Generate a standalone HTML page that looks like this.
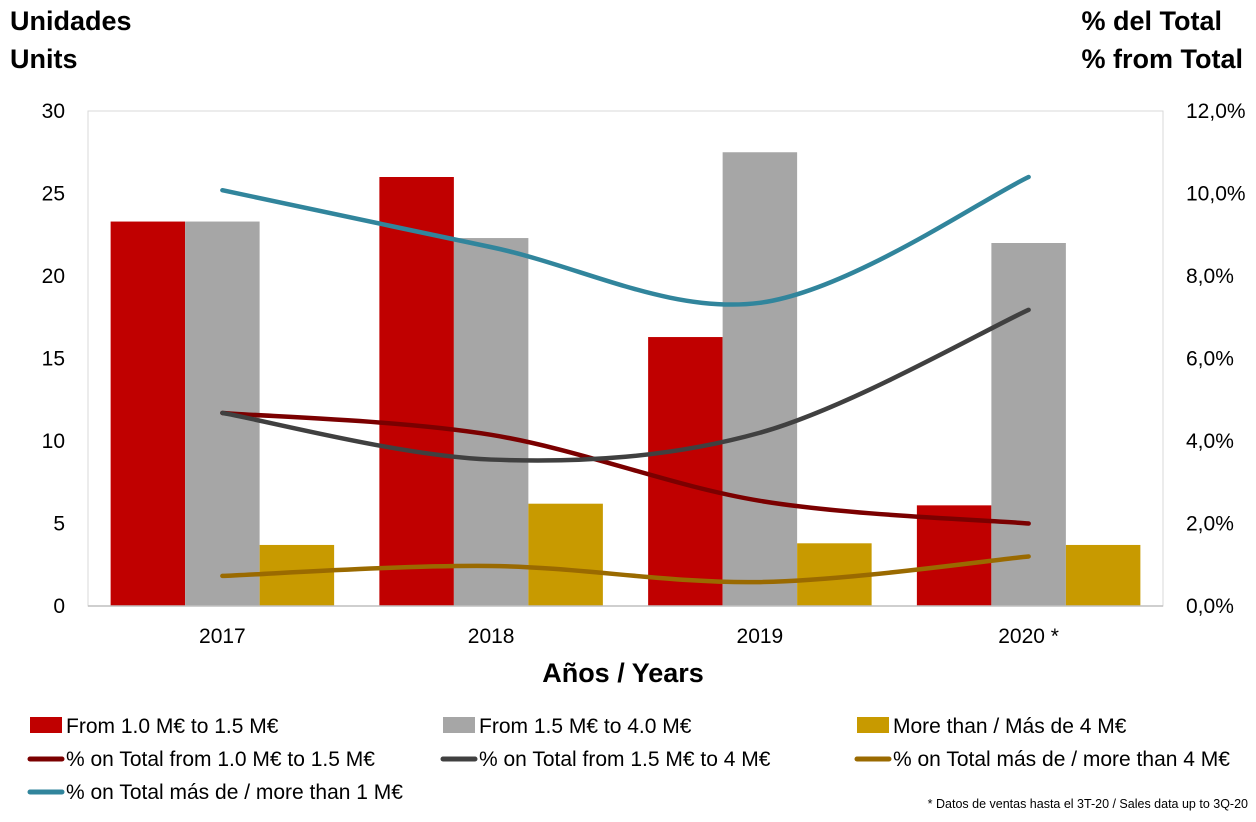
<!DOCTYPE html>
<html><head><meta charset="utf-8"><style>
body{margin:0;background:#fff;}
svg{display:block;font-family:"Liberation Sans Narrow","Liberation Sans",sans-serif;}
</style></head><body>
<svg id="chart" width="1256" height="822" viewBox="0 0 1256 822">
<rect x="0" y="0" width="1256" height="822" fill="#fff"/>
<g id="grid"></g>
<g id="bars"></g>
<g id="lines"></g>
<g id="axes"></g>
<text x="10" y="30" font-size="27" font-weight="bold">Unidades</text>
<text x="10" y="68" font-size="27" font-weight="bold">Units</text>
<text x="1222" y="30" font-size="27" font-weight="bold" text-anchor="end">% del Total</text>
<text x="1243" y="68" font-size="27" font-weight="bold" text-anchor="end">% from Total</text>
<text x="623" y="682" font-size="27" font-weight="bold" text-anchor="middle">Años / Years</text>
<g id="legend">
<rect x="30" y="717" width="32" height="16" fill="#c00000"/>
<text x="66" y="733" font-size="21">From 1.0 M€ to 1.5 M€</text>
<rect x="443" y="717" width="32" height="16" fill="#a6a6a6"/>
<text x="479" y="733" font-size="21">From 1.5 M€ to 4.0 M€</text>
<rect x="857" y="717" width="32" height="16" fill="#c89a00"/>
<text x="893" y="733" font-size="21">More than / Más de 4 M€</text>
<line x1="30" y1="759" x2="62" y2="759" stroke="#7b0000" stroke-width="5" stroke-linecap="round"/>
<text x="66" y="766" font-size="21">% on Total from 1.0 M€ to 1.5 M€</text>
<line x1="443" y1="759" x2="475" y2="759" stroke="#404040" stroke-width="5" stroke-linecap="round"/>
<text x="479" y="766" font-size="21">% on Total from 1.5 M€ to 4 M€</text>
<line x1="857" y1="759" x2="889" y2="759" stroke="#9a6a00" stroke-width="5" stroke-linecap="round"/>
<text x="893" y="766" font-size="21">% on Total más de / more than 4 M€</text>
<line x1="30" y1="792" x2="62" y2="792" stroke="#31859c" stroke-width="5" stroke-linecap="round"/>
<text x="66" y="799" font-size="21">% on Total más de / more than 1 M€</text>
</g>
<text x="1248" y="808" font-size="12.5" text-anchor="end">* Datos de ventas hasta el 3T-20 / Sales data up to 3Q-20</text>
</svg>
<script>
const categories = ["2017","2018","2019","2020 *"];
const unitsRed = [23.3, 26.0, 16.3, 6.1];
const unitsGray = [23.3, 22.3, 27.5, 22.0];
const unitsGold = [3.7, 6.2, 3.8, 3.7];
const pctRed = [4.68, 4.15, 2.55, 2.0];
const pctGray = [4.68, 3.55, 4.2, 7.18];
const pctGold = [0.73, 0.97, 0.58, 1.2];
const pctTeal = [10.08, 8.7, 7.35, 10.4];
const leftTicks = [0,5,10,15,20,25,30];
const rightTicks = ["0,0%","2,0%","4,0%","6,0%","8,0%","10,0%","12,0%"];

const NS="http://www.w3.org/2000/svg";
const L=88,R=1163,T=111,B=606;
const yL=v=>B-(v/30)*(B-T);
const yR=v=>B-(v/12)*(B-T);
const cw=(R-L)/categories.length;
const xC=i=>L+cw*(i+0.5);
function mk(tag,attrs,parent){const e=document.createElementNS(NS,tag);for(const k in attrs)e.setAttribute(k,attrs[k]);document.getElementById(parent).appendChild(e);return e;}

// plot frame
const fr=mk('rect',{x:L,y:T,width:R-L,height:B-T,fill:'none',stroke:'#d9d9d9','stroke-width':1},'grid');


const ax=mk('line',{x1:L,y1:B,x2:R,y2:B,stroke:'#bfbfbf','stroke-width':1.5},'axes');



leftTicks.forEach((t,i)=>{
  const a=mk('text',{x:65,y:yL(t)+7,'font-size':21,'text-anchor':'end'},'axes');a.textContent=t;
  
  
  const b=mk('text',{x:1186,y:yR(i*2)+7,'font-size':21},'axes');b.textContent=rightTicks[i];
  
  
});
categories.forEach((c,i)=>{
  const t=mk('text',{x:xC(i),y:643,'font-size':21,'text-anchor':'middle'},'axes');t.textContent=c;
  
  
});

const bw=74.5;
[[unitsRed,'#c00000','bar-red'],[unitsGray,'#a6a6a6','bar-gray'],[unitsGold,'#c89a00','bar-gold']].forEach(([arr,col,nm],s)=>{
  arr.forEach((v,i)=>{
    const x=xC(i)-1.5*bw+s*bw;
    const r=mk('rect',{x:x,y:yL(v),width:bw,height:B-yL(v),fill:col},'bars');
    
    
  });
});

function smooth(pts){
  let d=`M${pts[0][0]},${pts[0][1]}`;
  for(let i=0;i<pts.length-1;i++){
    const p0=pts[i-1]||pts[i],p1=pts[i],p2=pts[i+1],p3=pts[i+2]||p2;
    const c1=[p1[0]+(p2[0]-p0[0])/6,p1[1]+(p2[1]-p0[1])/6];
    const c2=[p2[0]-(p3[0]-p1[0])/6,p2[1]-(p3[1]-p1[1])/6];
    d+=` C${c1[0]},${c1[1]} ${c2[0]},${c2[1]} ${p2[0]},${p2[1]}`;
  }
  return d;
}
[[pctGold,'#9a6a00','line-pct-gold'],[pctRed,'#7b0000','line-pct-red'],[pctGray,'#404040','line-pct-gray'],[pctTeal,'#31859c','line-pct-teal']].forEach(([arr,col,nm])=>{
  const p=mk('path',{d:smooth(arr.map((v,i)=>[xC(i),yR(v)])),fill:'none',stroke:col,'stroke-width':4.5,'stroke-linecap':'round'},'lines');
  
  
});
</script>
</body></html>
